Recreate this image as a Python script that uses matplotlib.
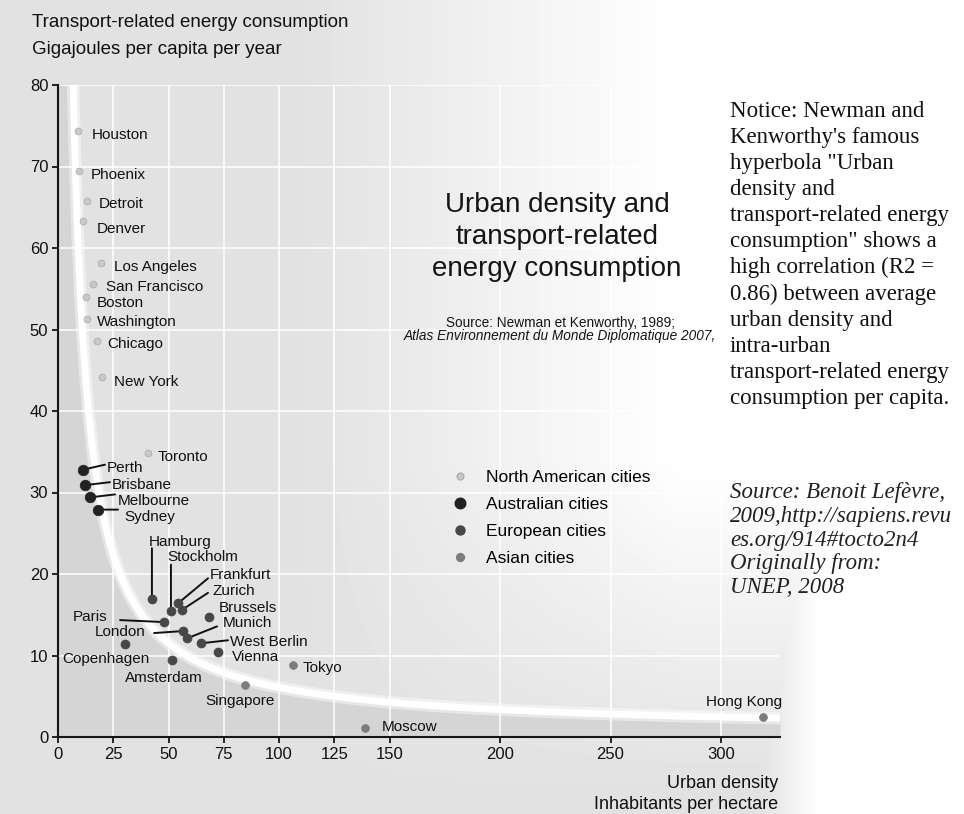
import numpy as np
import matplotlib
matplotlib.use("Agg")
import matplotlib.pyplot as plt
from matplotlib.lines import Line2D

plt.rcParams["font.family"] = ["Liberation Sans", "DejaVu Sans"]

W, H = 964, 814

# Newman & Kenworthy sample: urban density (inhabitants/ha) vs
# transport energy (GJ per capita per year)
cities = ["Houston", "Phoenix", "Detroit", "Denver", "Los Angeles", "San Francisco",
          "Boston", "Washington", "Chicago", "New York", "Toronto",
          "Perth", "Brisbane", "Melbourne", "Sydney",
          "Hamburg", "Stockholm", "Frankfurt", "Zurich", "Brussels", "Paris",
          "London", "Munich", "West Berlin", "Vienna", "Copenhagen", "Amsterdam",
          "Tokyo", "Singapore", "Moscow", "Hong Kong"]
density = [9.0, 9.5, 13.1, 11.3, 19.5, 15.8,
           12.7, 13.1, 17.6, 19.9, 40.7,
           11.3, 12.2, 14.5, 18.1,
           42.5, 51.1, 54.3, 56.1, 68.3, 48.0,
           56.6, 58.4, 64.7, 72.4, 30.3, 51.6,
           106.3, 84.6, 138.9, 319.0]
energy = [74.4, 69.4, 65.8, 63.3, 58.2, 55.6,
          54.0, 51.3, 48.6, 44.2, 34.8,
          32.8, 30.9, 29.4, 27.9,
          16.9, 15.5, 16.4, 15.6, 14.7, 14.1,
          13.0, 12.1, 11.5, 10.4, 11.4, 9.4,
          8.8, 6.4, 1.1, 2.5]
region = ["na", "na", "na", "na", "na", "na", "na", "na", "na", "na", "na",
          "au", "au", "au", "au",
          "eu", "eu", "eu", "eu", "eu", "eu", "eu", "eu", "eu", "eu", "eu", "eu",
          "as", "as", "as", "as"]

groups = ["na", "au", "eu", "as"]
group_labels = ["North American cities", "Australian cities",
                "European cities", "Asian cities"]

# fitted hyperbola: energy = a / density + b
hyp_a, hyp_b = 543.0, 0.64

x_ticks = [0, 25, 50, 75, 100, 125, 150, 200, 250, 300]
y_ticks = [0, 10, 20, 30, 40, 50, 60, 70, 80]

group_style = {
    "na": dict(c="#c8c8c8", s=24, edgecolors="#b0b0b0", linewidths=0.6),
    "au": dict(c="#222222", s=58, edgecolors="#222222", linewidths=0.5),
    "eu": dict(c="#474747", s=42, edgecolors="#474747", linewidths=0.5),
    "as": dict(c="#7c7c7c", s=32, edgecolors="#7c7c7c", linewidths=0.5),
}

# label offsets in pixels from the marker: (dx, dy, ha, leader end or None)
label_pos = {
    "Houston": (14, -4, "left", None),
    "Phoenix": (12, -4, "left", None),
    "Detroit": (12, -3, "left", None),
    "Denver": (14, -8, "left", None),
    "Los Angeles": (13, -4, "left", None),
    "San Francisco": (13, -3, "left", None),
    "Boston": (11, -6, "left", None),
    "Washington": (10, -3, "left", None),
    "Chicago": (10, -3, "left", None),
    "New York": (12, -5, "left", None),
    "Toronto": (10, -4, "left", None),
    "Perth": (24, 2, "left", (22, 5)),
    "Brisbane": (27, 0, "left", (25, 3)),
    "Melbourne": (28, -4, "left", (25, 3)),
    "Sydney": (26, -7, "left", (20, 0)),
    "Hamburg": (28, 57, "center", (0, 51)),
    "Stockholm": (32, 54, "center", (0, 46)),
    "Frankfurt": (32, 28, "left", (30, 25)),
    "Zurich": (31, 19, "left", (26, 17)),
    "Brussels": (10, 9, "left", None),
    "Paris": (-57, 5, "right", (-44, 2)),
    "London": (-38, -1, "right", (-29, -2)),
    "Munich": (36, 15, "left", (30, 12)),
    "West Berlin": (29, 1, "left", (27, 3)),
    "Vienna": (14, -5, "left", None),
    "Copenhagen": (-19, -15, "center", None),
    "Amsterdam": (-8, -18, "center", None),
    "Tokyo": (10, -3, "left", None),
    "Singapore": (-5, -16, "center", None),
    "Moscow": (17, 1, "left", None),
    "Hong Kong": (-19, 15, "center", None),
}

fig = plt.figure(figsize=(W / 100, H / 100), dpi=100)

# soft grey page tone that fades out towards the right-hand text column
px, py = np.meshgrid(np.arange(W), np.arange(H))
t_h = np.clip((px - 300) / 380.0, 0, 1)
t_v = np.clip((790 - py) / 330.0, 0, 1)
t = np.maximum(t_h * t_v, np.clip((px - 760) / 60.0, 0, 1))
tone = 0.885 + 0.115 * t
bg = fig.add_axes([0, 0, 1, 1], zorder=-10)
bg.imshow(tone, cmap="gray", vmin=0, vmax=1, extent=[0, W, H, 0],
          aspect="auto", interpolation="bilinear")
bg.axis("off")

x0, x1, y0, y1 = 58, 780, 85, 737
ax = fig.add_axes([x0 / W, (H - y1) / H, (x1 - x0) / W, (y1 - y0) / H])
ax.set_facecolor("none")
ax.set_xlim(0, (x1 - x0) / 2.21)
ax.set_ylim(0, 80)

# darker band under the hyperbola
xs = np.linspace(0.05, (x1 - x0) / 2.21, 900)
ax.fill_between(xs, 0, np.minimum(hyp_a / xs + hyp_b, 80), color="#d5d5d5",
                lw=0, zorder=0.2)

ax.set_xticks(x_ticks)
ax.set_yticks(y_ticks)
ax.set_axisbelow(True)
ax.grid(True, color="white", lw=1.3, alpha=0.85)

xc = np.linspace(hyp_a / (80 - hyp_b), (x1 - x0) / 2.21, 900)
ax.plot(xc, hyp_a / xc + hyp_b, color="white", lw=9, alpha=0.45,
        solid_capstyle="butt", zorder=1)
ax.plot(xc, hyp_a / xc + hyp_b, color="white", lw=5, solid_capstyle="butt",
        zorder=1.1)

density = np.array(density)
energy = np.array(energy)
region = np.array(region)
handles = []
for g, lab in zip(groups, group_labels):
    m = region == g
    ax.scatter(density[m], energy[m], zorder=3, **group_style[g])
    st = group_style[g]
    handles.append(Line2D([], [], ls="none", marker="o",
                          markersize=np.sqrt(st["s"]),
                          markerfacecolor=st["c"], markeredgecolor=st["edgecolors"],
                          label=lab))

for name, x, y in zip(cities, density, energy):
    dx, dy, ha, lead = label_pos[name]
    if lead is not None:
        ax.annotate("", xy=(x, y), xytext=lead, textcoords="offset pixels",
                    arrowprops=dict(arrowstyle="-", color="#111111", lw=1.4,
                                    shrinkA=0, shrinkB=0), zorder=2)
    ax.annotate(name, xy=(x, y), xytext=(dx, dy), textcoords="offset pixels",
                ha=ha, va="center", fontsize=11, color="#111111", zorder=4)

for side in ("top", "right"):
    ax.spines[side].set_visible(False)
for side in ("left", "bottom"):
    ax.spines[side].set_linewidth(1.5)
    ax.spines[side].set_color("#151515")
ax.tick_params(length=4, width=1.3, color="#151515", labelsize=12,
               labelcolor="#111111", pad=3)

def fx(p):
    return p / W

def fy(p):
    return 1 - p / H

fig.text(fx(32), fy(36), "Transport-related energy consumption\nGigajoules per capita per year",
         ha="left", va="center", fontsize=13.5, color="#111111", linespacing=1.75)
fig.text(fx(778), fy(794), "Urban density\nInhabitants per hectare",
         ha="right", va="center", fontsize=13, color="#111111", linespacing=1.35)

fig.text(fx(557), fy(237), "Urban density and\ntransport-related\nenergy consumption",
         ha="center", va="center", fontsize=20, color="#151515", linespacing=1.29)
fig.text(fx(560), fy(323), "Source: Newman et Kenworthy, 1989;",
         ha="center", va="center", fontsize=9.8, color="#151515")
fig.text(fx(716), fy(336), "Atlas Environnement du Monde Diplomatique 2007,",
         ha="right", va="center", fontsize=9.8, color="#151515", style="italic")

fig.legend(handles=handles, loc="upper left", bbox_to_anchor=(fx(451), fy(470)),
           frameon=False, fontsize=12.5, borderpad=0, borderaxespad=0,
           handlelength=1.0, handletextpad=1.0, labelspacing=0.68)

notice = ("Notice: Newman and\nKenworthy's famous\nhyperbola \"Urban\ndensity and\n"
          "transport-related energy\nconsumption\" shows a\nhigh correlation (R2 =\n"
          "0.86) between average\nurban density and\nintra-urban\n"
          "transport-related energy\nconsumption per capita.")
fig.text(fx(730), fy(101), notice, ha="left", va="top", fontsize=16.5,
         family="Liberation Serif", color="#111111", linespacing=1.315)
source = ("Source: Benoit Lef\u00e8vre,\n2009,http://sapiens.revu\nes.org/914#tocto2n4\n"
          "Originally from:\nUNEP, 2008")
fig.text(fx(730), fy(482), source, ha="left", va="top", fontsize=16.5,
         family="Liberation Serif", style="italic", color="#222222",
         linespacing=1.175)

fig.savefig("out.png", dpi=100)
